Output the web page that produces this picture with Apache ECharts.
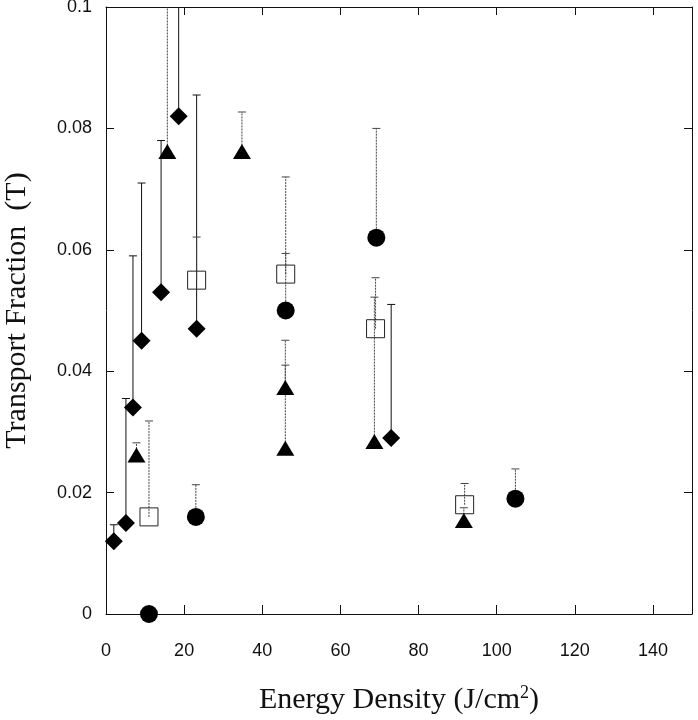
<!DOCTYPE html>
<html>
<head>
<meta charset="utf-8">
<script src="https://cdn.jsdelivr.net/npm/echarts@6/dist/echarts.min.js"></script>
<style>
html,body{margin:0;padding:0;background:#fff;}
#chart{width:698px;height:720px;}
</style>
</head>
<body>
<div id="chart"></div>
<script>
// ---- Data ----
const diamondX   = [2.0, 5.1, 6.9, 9.1, 14.1, 18.6, 23.2, 73.0];
const diamondY   = [0.012, 0.015, 0.034, 0.045, 0.053, 0.082, 0.047, 0.029];
const diamondErr = [0.0147, 0.0355, 0.059, 0.071, 0.078, 0.115, 0.0855, 0.051];

const triangleX   = [7.8, 15.7, 34.8, 45.9, 45.9, 68.7, 91.6];
const triangleY   = [0.0262, 0.0762, 0.0762, 0.0373, 0.0273, 0.0284, 0.0154];
const triangleErr = [0.0282, 0.115, 0.0827, 0.0451, 0.041, 0.0522, 0.0175];

const circleX   = [11.0, 23.0, 46.0, 69.2, 104.8];
const circleY   = [0.0, 0.016, 0.050, 0.062, 0.019];
const circleErr = [0.0, 0.0213, 0.0594, 0.080, 0.0239];

const squareX   = [11.0, 23.2, 46.0, 69.0, 91.8];
const squareY   = [0.016, 0.055, 0.056, 0.047, 0.018];
const squareErr = [0.0318, 0.0621, 0.072, 0.0554, 0.0215];

const xTicks = [0, 20, 40, 60, 80, 100, 120, 140];
const yTicks = [0, 0.02, 0.04, 0.06, 0.08, 0.1];

// ---- Build ----
function pts(xs, ys, es) { return xs.map((x, i) => [x, ys[i], es[i]]); }

function errSeries(data, style) {
  return {
    type: 'custom',
    data: data,
    z: 1,
    clip: false,
    encode: { x: 0, y: 1 },
    renderItem: function (params, api) {
      const x = api.value(0), y = api.value(1), hi = api.value(2);
      if (!(hi > y)) return;
      const p0 = api.coord([x, y]);
      const p1 = api.coord([x, hi]);
      const top = params.coordSys.y;
      let y1 = p1[1], cap = true;
      if (y1 < top) { y1 = top; cap = false; }
      const children = [{
        type: 'line',
        shape: { x1: p0[0], y1: p0[1], x2: p0[0], y2: y1 },
        style: style
      }];
      if (cap) {
        children.push({
          type: 'line',
          shape: { x1: p0[0] - 4, y1: y1, x2: p0[0] + 4, y2: y1 },
          style: { stroke: style.stroke, lineWidth: 1 }
        });
      }
      return { type: 'group', children: children };
    }
  };
}

const solid = { stroke: '#111', lineWidth: 1 };
const dotted = { stroke: '#444', lineWidth: 1, lineDash: [2, 1] };

const chart = echarts.init(document.getElementById('chart'), null, { renderer: 'canvas' });

const axisFont = { fontFamily: '"Liberation Sans", Arial, sans-serif', fontSize: 18, color: '#111' };
const titleFont = '"Liberation Serif", "Times New Roman", serif';
const axisLineStyle = { onZero: false, lineStyle: { color: '#111', width: 1 } };

const option = {
  backgroundColor: '#fff',
  animation: false,
  grid: { left: 106, right: 6, top: 7, bottom: 106, containLabel: false, outerBoundsMode: 'none' },
  xAxis: [{
    type: 'value', min: 0, max: 150, interval: 20,
    position: 'bottom',
    splitLine: { show: false },
    axisLine: axisLineStyle,
    axisTick: { inside: true, length: 9, lineStyle: { color: '#111' } },
    axisLabel: Object.assign({ margin: 28, showMaxLabel: false,
      formatter: v => (xTicks.indexOf(v) >= 0 ? String(v) : '') }, axisFont),
    name: 'Energy Density (J/cm{sup|2})',
    nameLocation: 'middle',
    nameGap: 70,
    nameTextStyle: {
      fontFamily: titleFont,
      fontSize: 30, color: '#111',
      rich: { sup: { fontFamily: titleFont, fontSize: 18, verticalAlign: 'top', padding: [0, 0, 14, 0], color: '#111' } }
    }
  }, {
    type: 'value', min: 0, max: 150, interval: 20,
    position: 'top',
    splitLine: { show: false },
    axisLine: axisLineStyle,
    axisTick: { inside: true, length: 8, lineStyle: { color: '#111' } },
    axisLabel: { show: false }
  }],
  yAxis: [{
    type: 'value', min: 0, max: 0.1, interval: 0.02,
    position: 'left',
    splitLine: { show: false },
    axisLine: axisLineStyle,
    axisTick: { inside: true, length: 8, lineStyle: { color: '#111' } },
    axisLabel: Object.assign({ margin: 14, padding: [6, 0, 0, 0],
      formatter: v => { const t = yTicks.find(k => Math.abs(k - v) < 1e-9); return t === undefined ? '' : String(t); } }, axisFont),
    name: 'Transport Fraction  (T)',
    nameLocation: 'middle',
    nameGap: 74,
    nameTextStyle: {
      fontFamily: titleFont,
      fontSize: 30, color: '#111'
    }
  }, {
    type: 'value', min: 0, max: 0.1, interval: 0.02,
    position: 'right',
    splitLine: { show: false },
    axisLine: axisLineStyle,
    axisTick: { inside: true, length: 8, lineStyle: { color: '#111' } },
    axisLabel: { show: false }
  }],
  series: [
    errSeries(pts(diamondX, diamondY, diamondErr), solid),
    errSeries(pts(triangleX, triangleY, triangleErr), dotted),
    errSeries(pts(circleX, circleY, circleErr), dotted),
    errSeries(pts(squareX, squareY, squareErr), dotted),
    {
      type: 'scatter', z: 3, clip: false,
      data: pts(diamondX, diamondY, diamondErr),
      symbol: 'diamond', symbolSize: [18, 18],
      itemStyle: { color: '#000', opacity: 1 }
    },
    {
      type: 'scatter', z: 3, clip: false,
      data: pts(triangleX, triangleY, triangleErr),
      symbol: 'triangle', symbolSize: [18, 15],
      itemStyle: { color: '#000', opacity: 1 }
    },
    {
      type: 'scatter', z: 3, clip: false,
      data: pts(circleX, circleY, circleErr),
      symbol: 'circle', symbolSize: 18,
      itemStyle: { color: '#000', opacity: 1 }
    },
    {
      type: 'scatter', z: 3, clip: false,
      data: pts(squareX, squareY, squareErr),
      symbol: 'rect', symbolSize: 18,
      itemStyle: { color: 'rgba(0,0,0,0)', borderColor: '#222', borderWidth: 1, opacity: 1 }
    }
  ]
};
chart.setOption(option);
</script>
</body>
</html>
